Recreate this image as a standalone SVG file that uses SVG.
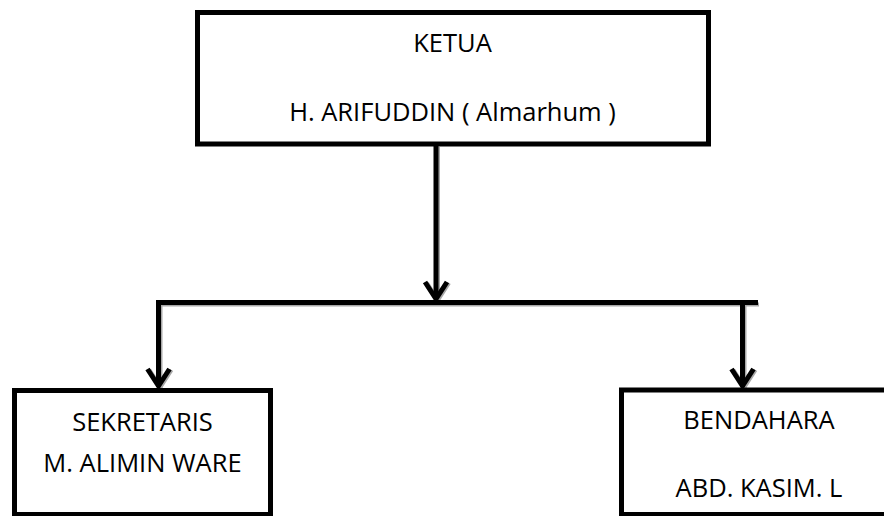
<svg xmlns="http://www.w3.org/2000/svg" width="884" height="516" viewBox="0 0 884 516">
<defs>
<style>
.box{fill:#ffffff;stroke:#000000;stroke-width:5}
.ln{fill:none;stroke:#000000;stroke-width:5;stroke-linejoin:miter}
.sh{fill:none;stroke:#a8a8a8;stroke-width:4;stroke-linejoin:miter}
.ah{fill:none;stroke:#000000;stroke-width:5;stroke-linejoin:miter;stroke-linecap:butt}
.ahs{fill:none;stroke:#a8a8a8;stroke-width:4;stroke-linejoin:miter}
text{font-family:"Open Sans","Liberation Sans",sans-serif;font-size:25.5px;fill:#000000;text-anchor:middle}
</style>
</defs>
<rect width="884" height="516" fill="#ffffff"/>
<g id="connectors">
<path class="sh" d="M438,147 V300"/>
<path class="sh" d="M160.5,389 V304.5 H759"/>
<path class="sh" d="M744.5,305 V389"/>
<path class="ahs" d="M427,283 L438,300 L449,283"/>
<path class="ahs" d="M149.5,370 L160.5,387 L171.5,370"/>
<path class="ahs" d="M733.5,370 L744.5,387 L755.5,370"/>
<path class="ln" d="M436,146 V299"/>
<path class="ln" d="M158.5,387 V302.5 H758"/>
<path class="ln" d="M742.5,302.5 V387"/>
<path class="ah" d="M425,282 L436,299 L447,282"/>
<path class="ah" d="M147.5,369 L158.5,386 L169.5,369"/>
<path class="ah" d="M731.5,369 L742.5,386 L753.5,369"/>
</g>
<g id="ketua">
<rect class="box" x="197.5" y="12.5" width="511" height="131.5"/>
<text x="452.5" y="52">KETUA</text>
<text x="452.5" y="121">H. ARIFUDDIN ( Almarhum )</text>
</g>
<g id="sekretaris">
<rect class="box" x="14.5" y="390.5" width="256" height="124"/>
<text x="142.5" y="431">SEKRETARIS</text>
<text x="142.5" y="472">M. ALIMIN WARE</text>
</g>
<g id="bendahara">
<rect class="box" x="621.5" y="390" width="280" height="124.5"/>
<text x="759" y="429">BENDAHARA</text>
<text x="759" y="497">ABD. KASIM. L</text>
</g>
</svg>
